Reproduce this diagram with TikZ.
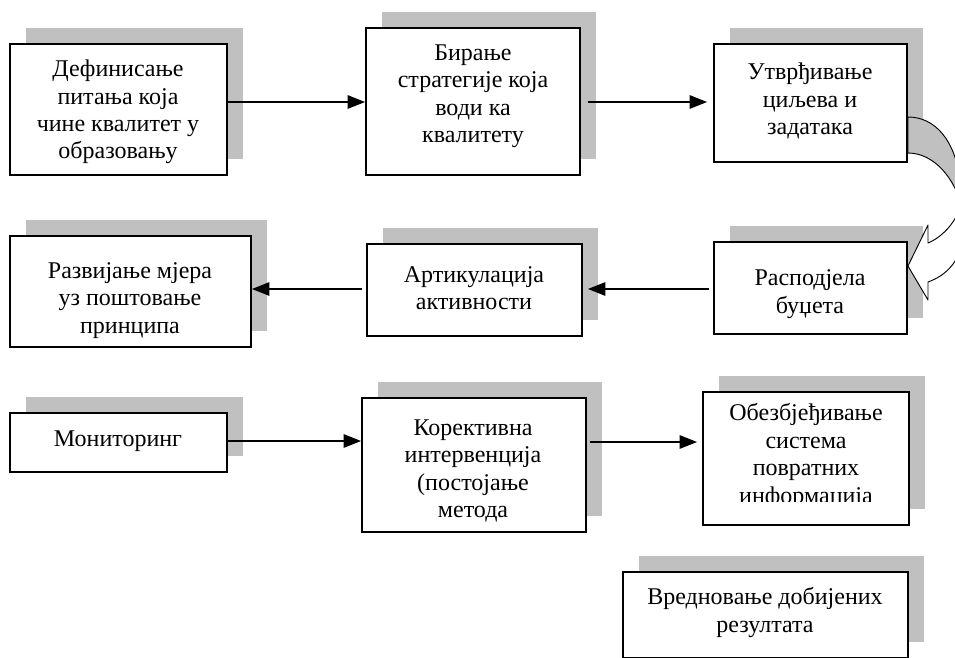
\documentclass[tikz,border=0pt]{standalone}
\usepackage{fontspec}
\setmainfont{Liberation Serif}
\usetikzlibrary{arrows.meta,fit}
\definecolor{shgray}{RGB}{192,192,192}
\tikzset{
  box/.style={draw=black, line width=1.4pt, fill=white, inner sep=0pt,
    preaction={fill=shgray, draw=none, transform canvas={xshift=12pt,yshift=12pt}}},
  txt/.style={align=center, font=\fontsize{18}{20.6}\selectfont, inner sep=0pt},
  arr/.style={line width=1.1pt, -{Triangle[length=13pt,width=10pt]}},
  curlback/.style={draw=black, line width=0.7pt, fill=shgray, line join=round},
  curlfront/.style={draw=black, line width=0.7pt, fill=white, line join=round},
}
\begin{document}
\begin{tikzpicture}[x=0.75pt,y=-0.75pt]
\useasboundingbox (0,0) rectangle (955,657);
\clip (0,0) rectangle (955,657);
\fill[white] (0,0) rectangle (955,657);
% boxes
\node[box, fit={(10,44) (227,175)}] (b1) {};
\node[box, fit={(366,28) (580,175)}] (b2) {};
\node[box, fit={(714,44) (907,162)}] (b3) {};
\node[box, fit={(714,242) (907,334)}] (b4) {};
\node[box, fit={(367,244) (582,336)}] (b5) {};
\node[box, fit={(10,236) (251,347)}] (b6) {};
\node[box, fit={(10,413) (227,472)}] (b7) {};
\node[box, fit={(362,398) (586,532)}] (b8) {};
\node[box, fit={(703,392) (909,525)}] (b9) {};
\node[box, fit={(623,572) (908,658)}] (b10) {};
% texts
\node[txt] (t1) at (118,112) {Дефинисање\\питања која\\чине квалитет у\\образовању};
\node[txt] (t2) at (473,96) {Бирање\\стратегије која\\води ка\\квалитету};
\node[txt] (t3) at (810,101) {Утврђивање\\циљева и\\задатака};
\node[txt] (t4) at (810,294) {Расподјела\\буџета};
\node[txt] (t5) at (474,288) {Артикулација\\активности};
\node[txt] (t6) at (130,300.5) {Развијање мјера\\уз поштовање\\принципа};
\node[txt] (t7) at (118,441) {Мониторинг};
\node[txt] (t8) at (473,471) {Корективна\\интервенција\\(постојање\\метода};
\begin{scope}
  \clip (703,392) rectangle (909,501);
  \node[txt] (t9) at (806,456) {Обезбјеђивање\\система\\повратних\\информација};
\end{scope}
\node[txt] (t10) at (765,612.5) {Вредновање добијених\\резултата};
% connectors
\draw[arr] (b1.east |- 0,102) -- (b2.west |- 0,102);
\draw[arr, shorten <=5pt, shorten >=4.5pt] (b2.east |- 0,102) -- (b3.west |- 0,102);
\draw[arr, shorten <=3pt, shorten >=3.75pt] (b4.west |- 0,289) -- (b5.east |- 0,289);
\draw[arr, shorten <=3pt] (b5.west |- 0,289) -- (b6.east |- 0,289);
\draw[arr] (b7.east |- 0,441) -- (b8.west |- 0,441);
\draw[arr, shorten <=2pt, shorten >=3.75pt] (b8.east |- 0,442) -- (b9.west |- 0,442);
% curved block arrow from b3 to b4
\draw[curlback] (b3.east |- 0,117) .. controls (935,117) and (955,140) .. (960,180)
  .. controls (961,190) and (961,198) .. (961,205)
  .. controls (955,180) and (935,153) .. (b3.east |- 0,153) -- cycle;
\draw[curlfront] (961,205) .. controls (955,225) and (940,238) .. (928,243)
  -- (928,225) -- (b4.east |- 0,266) -- (928,300) -- (928,282)
  .. controls (945,276) and (960,262) .. (962,240)
  -- (962,212) -- (961,205) -- cycle;
\end{tikzpicture}
\end{document}
